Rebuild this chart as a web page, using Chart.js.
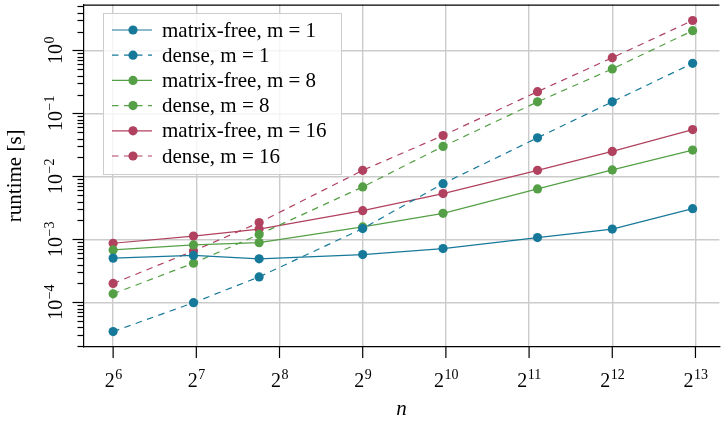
<!DOCTYPE html>
<html>
<head>
<meta charset="utf-8">
<script src="https://cdn.jsdelivr.net/npm/chart.js@4.4.1/dist/chart.umd.min.js"></script>
<style>
  html, body { margin: 0; padding: 0; background: #fff; }
  #wrap { width: 724px; height: 424px; position: relative; }
</style>
</head>
<body>
<div id="wrap"><canvas id="chart1"></canvas></div>
<script>
// problem sizes n (= 4^3 ... 20^3)
const nValues = [64, 125, 216, 512, 1000, 2197, 4096, 8000];

// runtime in seconds
const mfM1 = [5.05e-4, 5.57e-4, 4.93e-4, 5.75e-4, 7.17e-4, 1.07e-3, 1.46e-3, 3.08e-3];
const denseM1 = [3.44e-5, 9.9e-5, 2.54e-4, 1.49e-3, 7.69e-3, 4.11e-2, 0.153, 0.625];
const mfM8 = [6.82e-4, 8.18e-4, 8.9e-4, 1.58e-3, 2.6e-3, 6.34e-3, 1.27e-2, 2.62e-2];
const denseM8 = [1.37e-4, 4.2e-4, 1.2e-3, 6.82e-3, 3.0e-2, 0.153, 0.509, 2.06];
const mfM16 = [8.69e-4, 1.13e-3, 1.46e-3, 2.86e-3, 5.35e-3, 1.25e-2, 2.5e-2, 5.55e-2];
const denseM16 = [2.0e-4, 6.58e-4, 1.85e-3, 1.25e-2, 4.47e-2, 0.222, 0.768, 2.99];

const seriesLabels = ['matrix-free, m = 1', 'dense, m = 1', 'matrix-free, m = 8',
                      'dense, m = 8', 'matrix-free, m = 16', 'dense, m = 16'];

// tick labels: x = 2^k, y = 10^k
const xTickExps = [6, 7, 8, 9, 10, 11, 12, 13];
const yTickExps = [0, -1, -2, -3, -4];

const blue = '#17799a';
const green = '#55a046';
const red = '#b0415f';
const serif = '"Liberation Serif", "DejaVu Serif", serif';

function pts(ys) {
    return nValues.map((n, i) => ({ x: n, y: ys[i] }));
}

function series(label, ys, color, dashed) {
    return {
        label: label,
        data: pts(ys),
        borderColor: color,
        backgroundColor: color,
        borderWidth: 1.2,
        borderDash: dashed ? [6.5, 5.5] : [],
        pointRadius: 4.6,
        pointHoverRadius: 4.6,
        pointBorderWidth: 0,
        pointBackgroundColor: color,
        tension: 0,
        fill: false
    };
}

const datasets = [
    series(seriesLabels[0], mfM1, blue, false),
    series(seriesLabels[1], denseM1, blue, true),
    series(seriesLabels[2], mfM8, green, false),
    series(seriesLabels[3], denseM8, green, true),
    series(seriesLabels[4], mfM16, red, false),
    series(seriesLabels[5], denseM16, red, true)
];

function supLabel(ctx, base, sup, cx, baseline, bigSize, smallSize, rise) {
    ctx.font = bigSize + 'px ' + serif;
    const w1 = ctx.measureText(base).width;
    ctx.font = smallSize + 'px ' + serif;
    const w2 = ctx.measureText(sup).width;
    const x0 = cx - (w1 + w2) / 2;
    ctx.textAlign = 'left';
    ctx.textBaseline = 'alphabetic';
    ctx.font = bigSize + 'px ' + serif;
    ctx.fillText(base, x0, baseline);
    ctx.font = smallSize + 'px ' + serif;
    ctx.fillText(sup, x0 + w1 + 0.5, baseline - rise);
}

const axesPlugin = {
    id: 'axesPlugin',
    afterDraw(chart) {
        const ctx = chart.ctx;
        const area = chart.chartArea;
        const xs = chart.scales.x;
        const ys = chart.scales.y;
        ctx.save();
        ctx.strokeStyle = '#000';
        ctx.fillStyle = '#000';
        ctx.lineWidth = 1.2;

        // top frame line
        ctx.beginPath();
        ctx.moveTo(area.left, area.top + 0.5);
        ctx.lineTo(area.right, area.top + 0.5);
        ctx.stroke();

        // x ticks and labels
        xTickExps.forEach(k => {
            const px = xs.getPixelForValue(Math.pow(2, k));
            ctx.beginPath();
            ctx.moveTo(px, area.bottom);
            ctx.lineTo(px, area.bottom + 11);
            ctx.stroke();
            supLabel(ctx, '2', String(k), px, 387, 20, 14, 8);
        });

        // y ticks (major + minor)
        for (let d = -5; d <= 0; d++) {
            for (let m = 1; m <= 9; m++) {
                const v = m * Math.pow(10, d);
                if (v < ys.min || v > ys.max) continue;
                const py = Math.round(ys.getPixelForValue(v)) + 0.5;
                const len = m === 1 ? 11 : 6;
                ctx.beginPath();
                ctx.moveTo(area.left, py);
                ctx.lineTo(area.left - len, py);
                ctx.stroke();
            }
        }
        yTickExps.forEach(k => {
            const py = ys.getPixelForValue(Math.pow(10, k));
            ctx.save();
            ctx.translate(62, py);
            ctx.rotate(-Math.PI / 2);
            supLabel(ctx, '10', k === 0 ? '0' : '\u2212' + Math.abs(k), 0, 0, 20, 14, 8);
            ctx.restore();
        });

        // axis titles
        ctx.save();
        ctx.translate(21, (area.top + area.bottom) / 2);
        ctx.rotate(-Math.PI / 2);
        ctx.textAlign = 'center';
        ctx.textBaseline = 'alphabetic';
        ctx.font = '21px ' + serif;
        ctx.fillText('runtime [s]', 0, 0);
        ctx.restore();

        ctx.textAlign = 'center';
        ctx.font = 'italic 21px ' + serif;
        ctx.fillText('n', (area.left + area.right) / 2, 415);

        // legend box
        const bx = 103, by = 13, bw = 238, bh = 161;
        ctx.fillStyle = 'rgba(255,255,255,0.8)';
        ctx.fillRect(bx, by, bw, bh);
        ctx.strokeStyle = '#cccccc';
        ctx.lineWidth = 1;
        ctx.strokeRect(bx + 0.5, by + 0.5, bw, bh);
        datasets.forEach((ds, i) => {
            const cy = 30 + i * 25.2;
            ctx.strokeStyle = ds.borderColor;
            ctx.lineWidth = 1.2;
            ctx.setLineDash(ds.borderDash);
            ctx.beginPath();
            ctx.moveTo(112, cy);
            ctx.lineTo(152, cy);
            ctx.stroke();
            ctx.setLineDash([]);
            ctx.fillStyle = ds.borderColor;
            ctx.beginPath();
            ctx.arc(133, cy, 4.6, 0, Math.PI * 2);
            ctx.fill();
            ctx.fillStyle = '#000';
            ctx.font = '21px ' + serif;
            ctx.textAlign = 'left';
            ctx.textBaseline = 'middle';
            ctx.fillText(ds.label, 162, cy + 1);
        });
        ctx.restore();
    }
};

const ctx1 = document.getElementById('chart1');

new Chart(ctx1, {
    type: 'line',
    data: { datasets: datasets },
    options: {
        responsive: true,
        maintainAspectRatio: false,
        animation: false,
        layout: { padding: { top: 1, right: 0, left: 0, bottom: 0 } },
        plugins: {
            legend: { display: false },
            tooltip: { enabled: false }
        },
        scales: {
            x: {
                type: 'logarithmic',
                min: 50,
                max: 10000,
                afterBuildTicks: s => { s.ticks = xTickExps.map(k => ({ value: Math.pow(2, k) })); },
                afterFit: s => { s.height = 77; },
                ticks: { display: false },
                grid: { color: '#cbcbcb', lineWidth: 1.4, drawTicks: false },
                border: { display: true, color: '#000', width: 1.2 }
            },
            y: {
                type: 'logarithmic',
                min: 1.96e-5,
                max: 5.35,
                afterBuildTicks: s => { s.ticks = yTickExps.map(k => ({ value: Math.pow(10, k) })); },
                afterFit: s => { s.width = 83.5; },
                ticks: { display: false },
                grid: { color: '#cbcbcb', lineWidth: 1.4, drawTicks: false },
                border: { display: true, color: '#000', width: 1.2 }
            }
        }
    },
    plugins: [axesPlugin]
});
</script>
</body>
</html>
